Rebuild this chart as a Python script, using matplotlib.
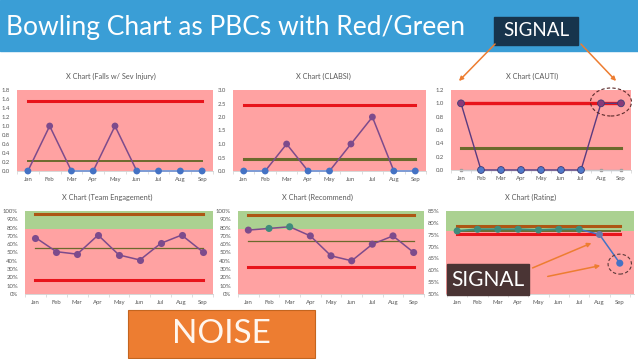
import numpy as np
import matplotlib
matplotlib.use("Agg")
import matplotlib.pyplot as plt
from matplotlib.patches import Rectangle, Ellipse, FancyArrowPatch

W, H = 638, 359

months = ["Jan", "Feb", "Mar", "Apr", "May", "Jun", "Jul", "Aug", "Sep"]

# top row: counts
falls = [0, 1, 0, 0, 1, 0, 0, 0, 0]
falls_ucl, falls_cl = 1.55, 0.22
clabsi = [0, 0, 1, 0, 0, 1, 2, 0, 0]
clabsi_ucl, clabsi_cl = 2.45, 0.44
cauti = [1, 0, 0, 0, 0, 0, 0, 1, 1]
cauti_base = [0, 0, 0, 0, 0, 0, 0, 0, 0]
cauti_ucl, cauti_cl = 1.0, 0.33

# bottom row: percentages
engagement = [68, 51, 48, 71, 47, 41, 61, 71, 51]
engagement_ucl, engagement_cl, engagement_lcl, engagement_goal = 96, 56, 16.5, 78
recommend = [77, 79, 81, 70, 46, 40, 60, 70, 50]
recommend_ucl, recommend_cl, recommend_lcl, recommend_goal = 95, 63.5, 32.5, 78
rating = [76.6, 77.3, 77.3, 77.3, 77.0, 77.3, 77.3, 75.1, 63.0]
rating_ucl, rating_cl, rating_lcl, rating_goal = 78.7, 76.7, 75.1, 76.5

PINK = "#ffa2a2"
GREEN = "#abd191"
RED = "#e8141b"
BROWN = "#ad5614"
OLIVE = "#6b6a2c"
PURPLE = "#7d4b8c"
BLUE = "#4472c4"
LBLUE = "#7fa3dc"
TEAL = "#3f8b7c"
GRAY = "#595959"
ORANGE = "#ed7d31"

plt.rcParams["font.family"] = ["Lato", "DejaVu Sans"]


def box(x0, y0, x1, y1):
    return [x0 / W, 1 - y1 / H, (x1 - x0) / W, (y1 - y0) / H]


def setup(ax, xlim, ylim, yticks, ylabels):
    ax.set_xlim(*xlim)
    ax.set_ylim(*ylim)
    for s in ["left", "right", "top"]:
        ax.spines[s].set_visible(False)
    ax.spines["bottom"].set_color("#d0d0d0")
    ax.spines["bottom"].set_linewidth(0.6)
    ax.set_xticks(range(len(months)))
    ax.set_xticklabels(months, fontsize=4.3, color=GRAY)
    ax.set_xticks(np.arange(-0.5, len(months), 1), minor=True)
    ax.tick_params(axis="x", which="major", length=0, pad=4)
    ax.tick_params(axis="x", which="minor", length=2, color="#d0d0d0", width=0.5)
    ax.set_yticks(yticks)
    ax.set_yticklabels(ylabels, fontsize=4.3, color=GRAY)
    ax.tick_params(axis="y", length=0, pad=5)


x = np.arange(len(months))
xe = x[[0, -1]]

fig = plt.figure(figsize=(W / 100, H / 100), dpi=100)

# title bar
fig.add_artist(Rectangle((0, 1 - 51 / H), 1, 51 / H, transform=fig.transFigure,
                         color="#3a9ed6", zorder=0))
fig.text(6 / W, 1 - 27 / H, "Bowling Chart as PBCs with Red/Green", color="white",
         fontsize=19, va="center", ha="left")


def count_chart(rect, vals, ucl, cl, ymax, step, xlim, title, tx, cl_lw):
    ax = fig.add_axes(box(*rect))
    ax.set_facecolor(PINK)
    ticks = np.arange(0, ymax + step / 2, step)
    setup(ax, xlim, (0, ymax), ticks, [f"{t:.1f}" for t in ticks])
    v = np.array(vals, float)
    ax.plot(xe, [ucl, ucl], color=RED, lw=2.2, zorder=2)
    ax.plot(xe, [cl, cl], color=OLIVE, lw=cl_lw, zorder=2)
    ax.plot(x, v, color=PURPLE, lw=1.1, zorder=3, clip_on=False)
    ax.plot(x, np.where(v == 0, v, np.nan), color=LBLUE, lw=1.3, zorder=3, clip_on=False)
    cols = [BLUE if val == 0 else PURPLE for val in v]
    ax.scatter(x, v, s=24, c=cols, zorder=4, clip_on=False, linewidths=0)
    fig.text(tx / W, 1 - 76 / H, title, fontsize=5.3, color=GRAY, ha="center", va="center")
    return ax


count_chart((17, 90, 213, 171), falls, falls_ucl, falls_cl, 1.8, 0.2, (-0.5, 8.5),
            "X Chart (Falls w/ Sev Injury)", 111, 1.4)
count_chart((233, 90, 426, 171), clabsi, clabsi_ucl, clabsi_cl, 3.0, 0.5, (-0.35, 8.5),
            "X Chart (CLABSI)", 323, 2.2)

# CAUTI
ax3 = fig.add_axes(box(451, 90, 631, 170))
ax3.set_facecolor(PINK)
t3 = np.arange(0, 1.21, 0.2)
setup(ax3, (-0.15, 8.5), (0, 1.2), t3, [f"{t:.1f}" for t in t3])
v3 = np.array(cauti, float)
ax3.plot(xe, [cauti_ucl, cauti_ucl], color=RED, lw=2.4, zorder=2)
ax3.plot(xe, [cauti_cl, cauti_cl], color=OLIVE, lw=2.2, zorder=2)
ax3.plot(x, cauti_base, color="#aab4c8", lw=1.0, zorder=2, clip_on=False,
         marker="s", ms=1.8, mfc="#a0a0a0", mec="#a0a0a0")
ax3.plot(x, v3, color="#5a3a80", lw=1.0, zorder=3, clip_on=False)
cols3 = ["#4f78c8" if val == 0 else "#8a3a78" for val in v3]
ax3.scatter(x, v3, s=24, c=cols3, edgecolors="#3c3c78", linewidths=0.6, zorder=4, clip_on=False)
ax3.add_patch(Ellipse((7.5, 1.02), 2.05, 0.42, fill=False, ls=(0, (3, 2)),
                      ec="#5a2a2a", lw=0.8, clip_on=False, zorder=5))
fig.text(532 / W, 1 - 76 / H, "X Chart (CAUTI)", fontsize=5.3, color=GRAY, ha="center", va="center")


def pct_chart(rect, vals, ucl, cl, lcl, goal, ylo, yhi, step, xlim, title, tx, cl_lw, cols):
    ax = fig.add_axes(box(*rect))
    ax.axhspan(ylo, goal, color=PINK, zorder=0, lw=0)
    ax.axhspan(goal, yhi, color=GREEN, zorder=0, lw=0)
    ticks = np.arange(ylo, yhi + step / 2, step)
    setup(ax, xlim, (ylo, yhi), ticks, [f"{t:.0f}%" for t in ticks])
    ax.plot(xe, [ucl, ucl], color=BROWN, lw=2.2, zorder=2)
    ax.plot(xe, [cl, cl], color=OLIVE, lw=cl_lw, zorder=2)
    ax.plot(xe, [lcl, lcl], color=RED, lw=2.2, zorder=2)
    fig.text(tx / W, 1 - 197 / H, title, fontsize=5.3, color=GRAY, ha="center", va="center")
    return ax


ax4 = pct_chart((25, 211, 213, 294), engagement, engagement_ucl, engagement_cl, engagement_lcl,
                engagement_goal, 0, 100, 10, (-0.4, 8.5), "X Chart (Team Engagement)", 107, 0.9, None)
ax4.plot(x, engagement, color=PURPLE, lw=1.1, zorder=3)
ax4.scatter(x, engagement, s=26, c=PURPLE, zorder=4, linewidths=0)

ax5 = pct_chart((238, 211, 424, 294), recommend, recommend_ucl, recommend_cl, recommend_lcl,
                recommend_goal, 0, 100, 10, (-0.35, 8.25), "X Chart (Recommend)", 318, 0.9, None)
ax5.plot(x, recommend, color=PURPLE, lw=1.1, zorder=3)
cols5 = [TEAL if val >= recommend_goal else PURPLE for val in recommend]
ax5.scatter(x, recommend, s=26, c=cols5, zorder=4, linewidths=0)

ax6 = pct_chart((446, 211, 634, 294), rating, rating_ucl, rating_cl, rating_lcl,
                rating_goal, 50, 85, 5, (-0.55, 8.7), "X Chart (Rating)", 531, 1.4, None)
ax6.plot(x[:7], rating[:7], color=TEAL, lw=1.4, zorder=3)
ax6.plot(x[6:], rating[6:], color=BLUE, lw=1.1, zorder=3)
cols6 = [TEAL] * 7 + ["#6c78a8", BLUE]
ax6.scatter(x, rating, s=26, c=cols6, zorder=4, linewidths=0)
ax6.add_patch(Ellipse((8, 62.6), 1.15, 8.4, fill=False, ls=(0, (3, 2)),
                      ec="#5a3a3a", lw=0.8, clip_on=False, zorder=5))

# callouts
fig.add_artist(Rectangle((494 / W, 1 - 45 / H), 84 / W, 28 / H, transform=fig.transFigure,
                         color="#17344c", zorder=6))
fig.text(536 / W, 1 - 31 / H, "SIGNAL", color="white", fontsize=13.5, ha="center",
         va="center", zorder=7)

fig.add_artist(Rectangle((447 / W, 1 - 295 / H), 82 / W, 31 / H, transform=fig.transFigure,
                         color="#4a3434", zorder=6))
fig.text(488 / W, 1 - 280 / H, "SIGNAL", color="white", fontsize=15, ha="center",
         va="center", zorder=7)

fig.add_artist(Rectangle((128 / W, 1 - 358 / H), 187 / W, 48 / H, transform=fig.transFigure,
                         facecolor=ORANGE, edgecolor="#c4651f", lw=0.8, zorder=6))
fig.text(221 / W, 1 - 334 / H, "NOISE", color="#fff6ee", fontsize=24, ha="center",
         va="center", zorder=7)

for (x0, y0), (x1, y1) in [((497, 42), (457, 83)), ((579, 42), (618, 83)),
                           ((530, 269), (594, 242)), ((545, 277), (603, 265))]:
    fig.add_artist(FancyArrowPatch((x0 / W, 1 - y0 / H), (x1 / W, 1 - y1 / H),
                                   transform=fig.transFigure, arrowstyle="-|>",
                                   mutation_scale=6, color=ORANGE, lw=1.1, zorder=8))

fig.savefig("out.png", dpi=100)
